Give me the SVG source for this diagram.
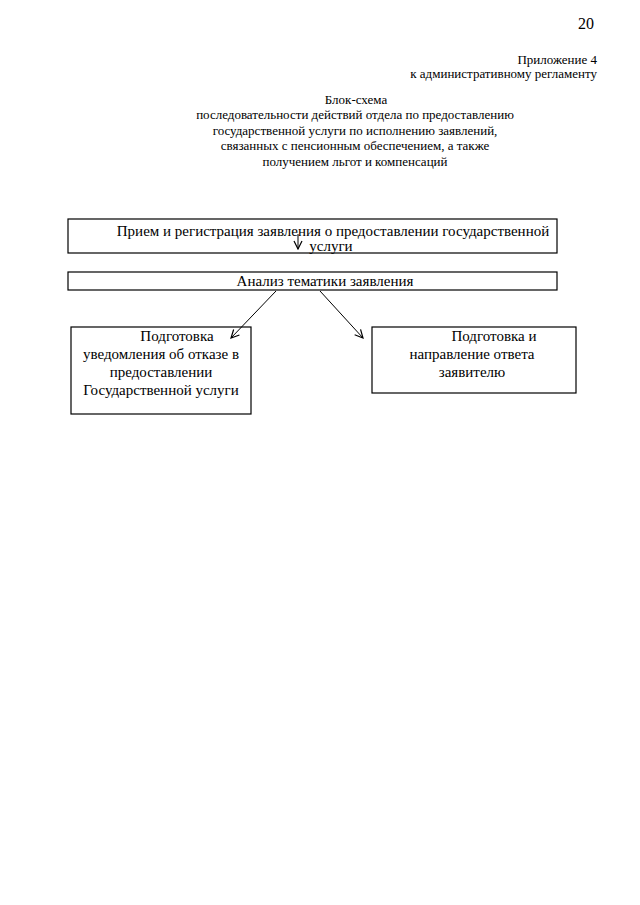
<svg xmlns="http://www.w3.org/2000/svg" width="640" height="905" viewBox="0 0 640 905">
<style>
text{font-family:"Liberation Serif","Times New Roman",serif;fill:#000}
.s{font-size:13px}
.b{font-size:15px}
.box{fill:#fff;stroke:#000;stroke-width:1.2}
.c{fill:none;stroke:#000;stroke-width:1}
</style>
<defs>
<marker id="v" viewBox="0 0 10 10" refX="9" refY="5" markerWidth="10" markerHeight="10" markerUnits="userSpaceOnUse" orient="auto">
<path d="M1,1 L9,5 L1,9" fill="none" stroke="#000" stroke-width="1.2"/>
</marker>
</defs>
<rect width="640" height="905" fill="#fff"/>
<text x="594" y="29" text-anchor="end" style="font-size:16px">20</text>
<text x="597" y="64" text-anchor="end" class="s">Приложение 4</text>
<text x="597" y="78" text-anchor="end" class="s">к административному регламенту</text>
<g text-anchor="middle" class="s">
<text x="356" y="104">Блок-схема</text>
<text x="355" y="119">последовательности действий отдела по предоставлению</text>
<text x="355" y="135">государственной услуги по исполнению заявлений,</text>
<text x="355" y="150">связанных с пенсионным обеспечением, а также</text>
<text x="355" y="166">получением льгот и компенсаций</text>
</g>
<g id="n1">
<rect class="box" x="68" y="219" width="489" height="34"/>
<text class="b" x="333" y="236" text-anchor="middle">Прием и регистрация заявления о предоставлении государственной</text>
<text class="b" x="331" y="251" text-anchor="middle">услуги</text>
</g>
<g id="n2">
<rect class="box" x="68" y="272" width="489" height="18"/>
<text class="b" x="325" y="286" text-anchor="middle">Анализ тематики заявления</text>
</g>
<g id="n3">
<rect class="box" x="71" y="327" width="180" height="87"/>
<g class="b" text-anchor="middle">
<text x="177" y="341">Подготовка</text>
<text x="161" y="359">уведомления об отказе в</text>
<text x="161" y="377">предоставлении</text>
<text x="161" y="395">Государственной услуги</text>
</g>
</g>
<g id="n4">
<rect class="box" x="372" y="327" width="204" height="66"/>
<g class="b" text-anchor="middle">
<text x="494" y="341">Подготовка и</text>
<text x="472" y="359">направление ответа</text>
<text x="472" y="377">заявителю</text>
</g>
</g>
<g id="connectors">
<line class="c" x1="298" y1="234" x2="298" y2="249" marker-end="url(#v)"/>
<line class="c" x1="276" y1="291" x2="231" y2="338" marker-end="url(#v)"/>
<line class="c" x1="320" y1="291" x2="363" y2="338" marker-end="url(#v)"/>
</g>
</svg>
